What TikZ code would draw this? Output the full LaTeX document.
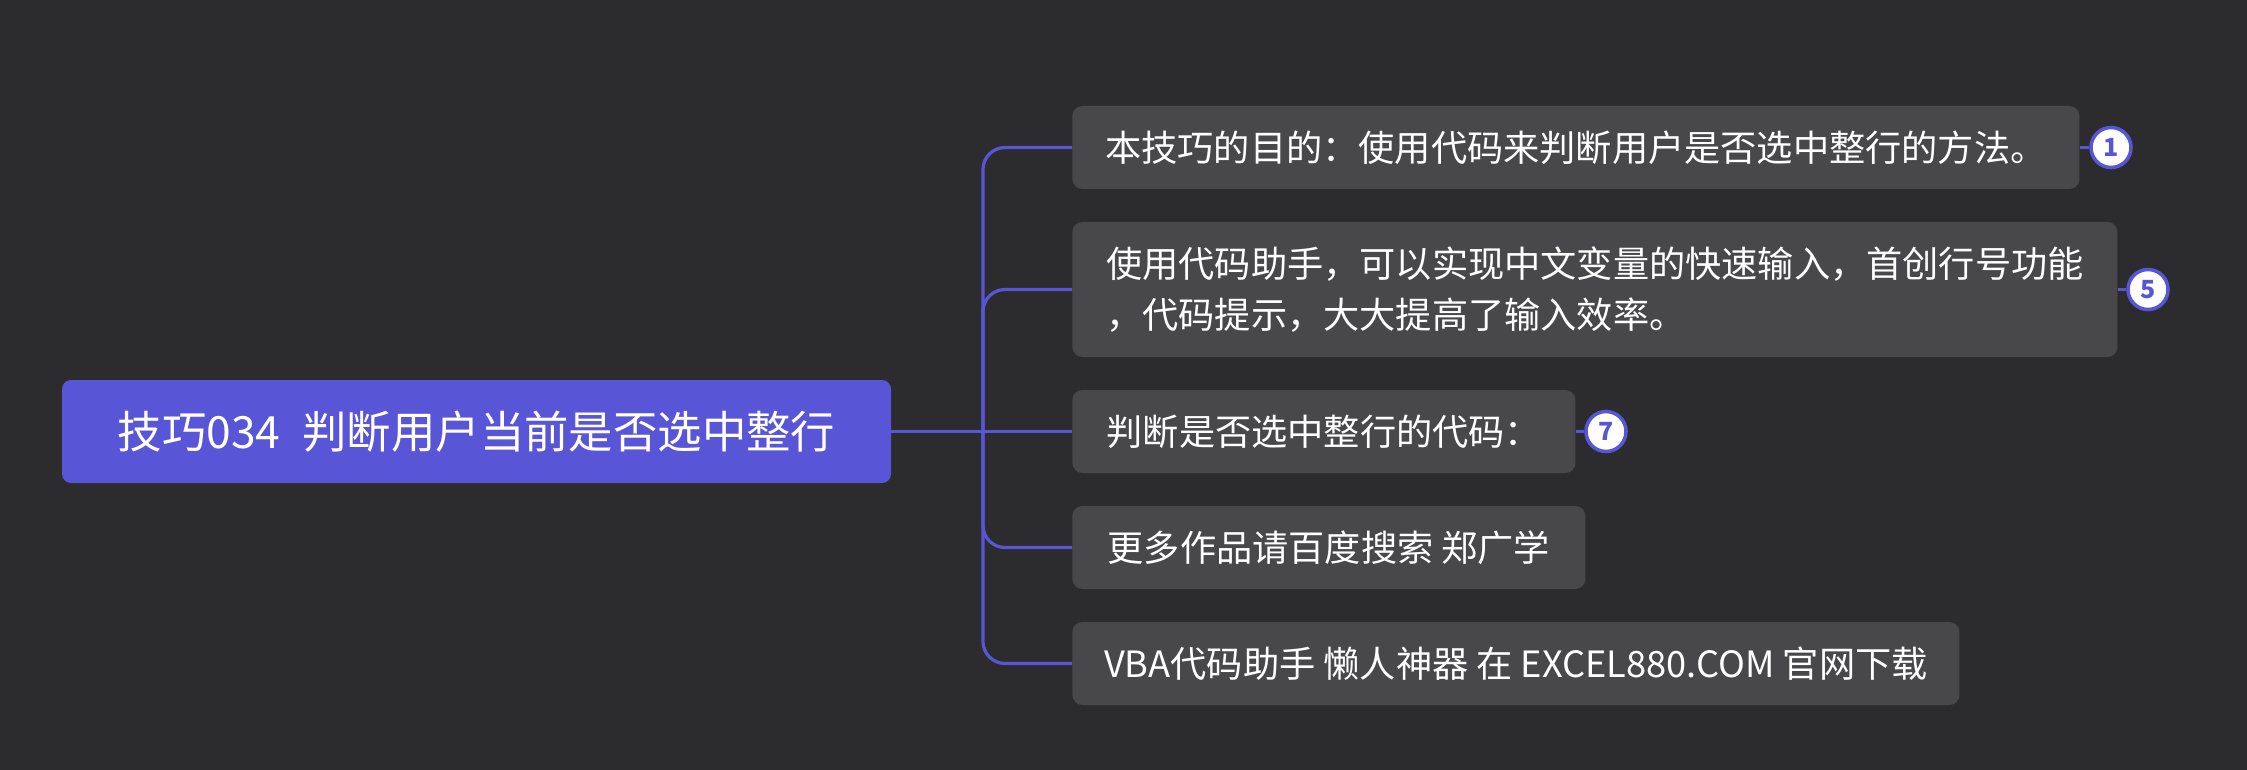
\documentclass[tikz,border=0pt]{standalone}
\usepackage{fontspec}
\setmainfont{Noto Sans CJK SC}
\definecolor{bg}{HTML}{2C2C2E}
\definecolor{indigo}{HTML}{5856D6}
\definecolor{childfill}{HTML}{48484A}
\begin{document}
\begin{tikzpicture}[x=0.5pt,y=-0.5pt,
  rootbox/.style={fill=indigo, rounded corners=4.5pt, text=white, inner sep=0pt,
    font=\fontsize{22.2}{26}\selectfont, minimum height=51.5pt},
  childbox/.style={fill=childfill, rounded corners=5pt, text=white, inner sep=0pt,
    font=\fontsize{18.1}{25.8}\selectfont, anchor=west, minimum height=41.5pt, align=left},
  conn/.style={draw=indigo, line width=1.6pt, rounded corners=11pt},
  badge/.style={circle, draw=indigo, line width=1.75pt, fill=white, text=indigo,
    inner sep=0pt, minimum size=20pt, font=\bfseries\fontsize{12.5}{12.5}\selectfont},
  badgeline/.style={draw=indigo, line width=1.6pt}]
\fill[bg] (0,0) rectangle (2247,770);
\useasboundingbox (0,0) rectangle (2247,770);

\node[rootbox, minimum width=414.5pt] (root) at (476.5,431.5) {技巧034\hspace{0.5em}判断用户当前是否选中整行};

\node[childbox, minimum width=503.5pt] (c1) at (1072,147.5) {本技巧的目的：使用代码来判断用户是否选中整行的方法。};
\node[childbox, minimum width=522.5pt, minimum height=67.5pt] (c2) at (1072,289.5) {使用代码助手，可以实现中文变量的快速输入，首创行号功能\\，代码提示，大大提高了输入效率。};
\node[childbox, minimum width=251.5pt] (c3) at (1072,431.5) {判断是否选中整行的代码：};
\node[childbox, minimum width=256.5pt] (c4) at (1072,547.5) {更多作品请百度搜索 郑广学};
\node[childbox, minimum width=443.5pt] (c5) at (1072,663.5) {VBA代码助手 懒人神器 在 EXCEL880.COM 官网下载};

\coordinate (j) at (983,431.5);
\draw[conn] (root.east) -- (c3.west);
\draw[conn] (j) |- (c1.west);
\draw[conn] (j) |- (c2.west);
\draw[conn] (j) |- (c4.west);
\draw[conn] (j) |- (c5.west);

\node[badge] (b1) at (2111,147.5) {1};
\node[badge] (b2) at (2148,289.5) {5};
\node[badge] (b3) at (1606,431.5) {7};
\draw[badgeline] (c1.east) -- (b1.west);
\draw[badgeline] (c2.east) -- (b2.west);
\draw[badgeline] (c3.east) -- (b3.west);
\end{tikzpicture}
\end{document}
